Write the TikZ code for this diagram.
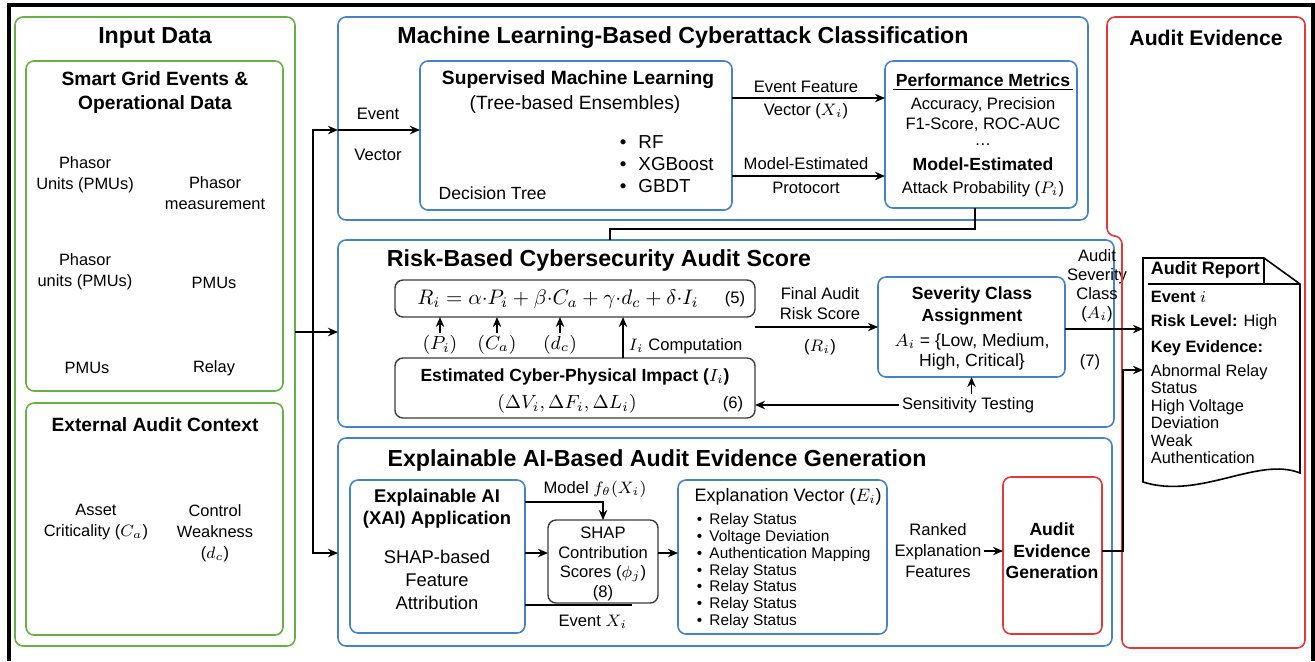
\documentclass[tikz,border=0pt]{standalone}
\usepackage{fix-cm}
\usepackage{amsmath}
\usepackage{fontspec}
\setmainfont{Liberation Sans}
\usetikzlibrary{arrows.meta,positioning,fit,calc}

\definecolor{grnline}{HTML}{6AAE45}
\definecolor{bluline}{HTML}{4583C6}
\definecolor{redline}{HTML}{E0383B}
\definecolor{gryline}{HTML}{3C3C3C}

\begin{document}
\begin{tikzpicture}[
  x=0.5pt, y=-0.5pt, >={Stealth[length=5pt,width=4.2pt]}, line width=0.9pt,
  panel/.style={rounded corners=4pt, inner sep=0pt, outer sep=0pt, line width=0.8pt},
  grnbox/.style={panel, draw=grnline},
  blubox/.style={panel, draw=bluline},
  redbox/.style={panel, draw=redline},
  grybox/.style={panel, draw=gryline, line width=0.7pt},
  ttl/.style={font=\fontsize{11.6}{14}\selectfont\bfseries},
  hdr/.style={font=\fontsize{9.6}{12}\selectfont\bfseries, align=center},
  hdrs/.style={font=\fontsize{8.8}{11}\selectfont\bfseries, align=center},
  txt/.style={font=\fontsize{8.3}{10}\selectfont, align=center},
  txtm/.style={font=\fontsize{9.2}{11.5}\selectfont, align=center},
  lbl/.style={font=\fontsize{8.3}{10}\selectfont, align=center, inner sep=1pt},
  itm/.style={font=\fontsize{7.7}{8.45}\selectfont, align=left, inner sep=0pt},
]
\useasboundingbox (0,0) rectangle (1315,661);
\draw[line width=1.6pt] (9,661) -- (9,5) -- (1313,5) -- (1313,661);

% input data
\node[grnbox, fit={(15,17)(295,646)}] (inp) {};
\node[ttl] (inpT) at (155,38) {Input Data};
\node[grnbox, fit={(26,61)(283,391)}] (grid) {};
\node[hdr] (gridT) at (155,93) {Smart Grid Events \&\\Operational Data};
\node[txt, font=\fontsize{8.2}{10.5}\selectfont] (g1) at (85,175) {Phasor\\Units (PMUs)};
\node[txt, font=\fontsize{8.2}{10.5}\selectfont] (g2) at (215,193) {Phasor\\measurement};
\node[txt, font=\fontsize{8.2}{10.5}\selectfont] (g3) at (85,272) {Phasor\\units (PMUs)};
\node[txt, font=\fontsize{8.2}{10.5}\selectfont] (g4) at (214,283) {PMUs};
\node[txt, font=\fontsize{8.2}{10.5}\selectfont] (g5) at (87,368) {PMUs};
\node[txt, font=\fontsize{8.2}{10.5}\selectfont] (g6) at (214,368) {Relay};
\node[grnbox, fit={(26,403)(283,635)}] (ext) {};
\node[hdr] (extT) at (155,425) {External Audit Context};
\node[txt, font=\fontsize{8.2}{10.5}\selectfont] (ca) at (96,522) {Asset\\Criticality ($C_a$)};
\node[txt, font=\fontsize{8.2}{10.5}\selectfont] (dc) at (215,533) {Control\\Weakness\\($d_c$)};

% machine learning
\node[blubox, fit={(338,17)(1088,220)}] (ml) {};
\node[ttl] (mlT) at (683,38) {Machine Learning-Based Cyberattack Classification};
\node[blubox, fit={(420,61)(732,210)}] (sup) {};
\node[hdr] (supT) at (578,80) {Supervised Machine Learning};
\node[txtm, font=\fontsize{9.6}{11.5}\selectfont] (ens) at (575,105) {(Tree-based Ensembles)};
\node[itm, font=\fontsize{9.4}{11}\selectfont, anchor=west] (algs) at (619,164)
  {\textbullet\hspace{6pt}RF\\\textbullet\hspace{6pt}XGBoost\\\textbullet\hspace{6pt}GBDT};
\node[txt, anchor=west, font=\fontsize{8.8}{10}\selectfont] (dtree) at (431,193) {Decision Tree};
\node[lbl] (evt) at (378,114) {Event};
\node[lbl] (vec) at (378,155) {Vector};
\node[blubox, fit={(885,61)(1077,208)}] (perf) {};
\node[hdrs, inner sep=1pt] (pm) at (983,80) {Performance Metrics};
\draw[line width=0.6pt] (pm.south west) -- (pm.south east);
\node[txt] (acc) at (983,115) {Accuracy, Precision\\F1-Score, ROC-AUC};
\node[txt, inner sep=0pt] (dots) at (983,145) {\dots};
\node[txt, font=\fontsize{8.3}{11.5}\selectfont] (prob) at (983,177)
  {\textbf{\fontsize{8.8}{11.5}\selectfont Model-Estimated}\\Attack Probability ($P_i$)};

\draw[->] (ml.west |- 0,130) -- (sup.west |- 0,130);
\draw[->] (sup.east |- 0,98) -- (perf.west |- 0,98);
\node[lbl] at (806,87) {Event Feature};
\node[lbl] at (806,111) {Vector ($X_i$)};
\draw[->] (sup.east |- 0,176) -- (perf.west |- 0,176);
\node[lbl] at (806,164) {Model-Estimated};
\node[lbl] at (806,188) {Protocort};

% risk score
\node[blubox, fit={(338,240)(1114,427)}] (risk) {};
\node[ttl] (riskT) at (599,260) {Risk-Based Cybersecurity Audit Score};
\node[grybox, fit={(395,280)(755,317)}] (eq) {};
\node[font=\fontsize{10.5}{12}\selectfont] (eqn) at (558,299)
  {$R_i = \alpha{\cdot}P_i + \beta{\cdot}C_a + \gamma{\cdot}d_c + \delta{\cdot}I_i$};
\node[txt] (n5) at (735,299) {(5)};
\node[lbl, font=\fontsize{9.5}{10}\selectfont] (lp) at (440,345) {$(P_i)$};
\node[lbl, font=\fontsize{9.5}{10}\selectfont] (lc) at (497,345) {$(C_a)$};
\node[lbl, font=\fontsize{9.5}{10}\selectfont] (ld) at (560,345) {$(d_c)$};
\draw[->] (lp) -- (lp |- eq.south);
\draw[->] (lc) -- (lc |- eq.south);
\draw[->] (ld) -- (ld |- eq.south);
\node[grybox, fit={(395,358)(755,418)}] (imp) {};
\node[hdrs] (impT) at (575,377) {Estimated Cyber-Physical Impact ($I_i$)};
\node[font=\fontsize{9.5}{11}\selectfont] (dlt) at (567,404) {$(\Delta V_i, \Delta F_i, \Delta L_i)$};
\node[txt] (n6) at (733,404) {(6)};
\draw[->] (imp.north -| 623,0) -- (eq.south -| 623,0);
\node[lbl, anchor=west] (icomp) at (626,346) {$I_i$ Computation};
\node[blubox, fit={(878,277)(1065,377)}] (sev) {};
\node[hdrs] (sevT) at (972,306) {Severity Class\\Assignment};
\node[txt, font=\fontsize{8.8}{10}\selectfont] (sevA) at (972,352) {$A_i$ = \{Low, Medium,\\High, Critical\}};
\draw[->] (eq.east |- sev.west) -- (sev.west);
\node[lbl] (fin) at (820,304) {Final Audit\\Risk Score};
\node[lbl] (ri) at (820,347) {($R_i$)};
\node[lbl] (sens) at (968,405) {Sensitivity Testing};
\draw[->] (sens.north -| sev.south) -- (sev.south);
\draw[->] (sens.west) -- (sens.west -| imp.east);
\node[lbl, font=\fontsize{8.3}{9.5}\selectfont] (asc) at (1097,286) {Audit\\Severity\\Class\\($A_i$)};
\node[lbl] (n7) at (1090,362) {(7)};

% xai evidence
\node[blubox, fit={(338,438)(1112,646)}] (xai) {};
\node[ttl] (xaiT) at (657,460) {Explainable AI-Based Audit Evidence Generation};
\node[blubox, fit={(350,480)(525,633)}] (app) {};
\node[hdr, font=\fontsize{9.2}{11}\selectfont\bfseries] (appT) at (437,509) {Explainable AI\\(XAI) Application};
\node[txtm] (shapb) at (437,580) {SHAP-based\\Feature\\Attribution};
\node[grybox, fit={(548,520)(658,603)}] (shap) {};
\node[txt, font=\fontsize{8.3}{9.7}\selectfont] (shapT) at (603,564) {SHAP\\Contribution\\Scores ($\phi_j$)\\(8)};
\draw[->] (app.east |- 0,502) -| (shap.north);
\node[lbl] (mdl) at (595,489) {Model $f_\theta(X_i)$};
\draw[->] (app.east |- 0,553) -- (shap.west |- 0,553);
\coordinate (evx) at (632,605);
\draw (app.east |- evx) -- (evx);
\node[lbl] (evl) at (593,622) {Event $X_i$};
\node[blubox, fit={(678,480)(887,634)}] (expl) {};
\node[txt, anchor=west, font=\fontsize{9}{10}\selectfont] (explT) at (687,497) {Explanation Vector ($E_i$)};
\node[itm, anchor=west] (items) at (696,571)
  {\textbullet\hspace{3.6pt}Relay Status\\\textbullet\hspace{3.6pt}Voltage Deviation\\
   \textbullet\hspace{3.6pt}Authentication Mapping\\\textbullet\hspace{3.6pt}Relay Status\\
   \textbullet\hspace{3.6pt}Relay Status\\\textbullet\hspace{3.6pt}Relay Status\\
   \textbullet\hspace{3.6pt}Relay Status};
\draw[->] (shap.east |- 0,553) -- (expl.west |- 0,553);
\node[lbl, font=\fontsize{8.3}{10.5}\selectfont] (rank) at (938,551) {Ranked\\Explanation\\Features};
\node[redbox, fit={(1003,477)(1102,634)}] (aeg) {};
\node[hdrs, font=\fontsize{8.8}{10.8}\selectfont\bfseries] (aegT) at (1052,551) {Audit\\Evidence\\Generation};
\draw[->] (rank.east) -- (rank.east -| aeg.west);

% audit evidence
\draw[redline, line width=0.8pt, rounded corners=4pt]
  (1107,17) -- (1305,17) -- (1305,648) -- (1122,648) -- (1122,236) -- (1107,236) -- cycle;
\node[ttl, font=\fontsize{10.6}{13}\selectfont\bfseries] (audT) at (1206,38) {Audit Evidence};
\node[fit={(1143,258)(1300,482)}, inner sep=0pt, outer sep=0pt] (rep) {};
\draw[line width=0.8pt] (rep.north west) -- (1264,258) -- (1300,284) -- (1300,473)
  .. controls (1258,456) and (1200,500) .. (rep.south west) -- cycle;
\draw[line width=0.7pt] (1264,258) -- (1264,284) -- (1300,284);
\draw[line width=0.6pt] (1148,284) -- (1264,284);
\node[anchor=west, font=\fontsize{9}{10}\selectfont\bfseries, inner sep=0pt] (repT) at (1150,270) {Audit Report};
\node[anchor=west, font=\fontsize{8.2}{10}\selectfont, inner sep=0pt] (r1) at (1150,297) {\textbf{Event} $i$};
\node[anchor=west, font=\fontsize{8.2}{10}\selectfont, inner sep=0pt] (r2) at (1150,322) {\textbf{Risk Level:} High};
\node[anchor=west, font=\fontsize{8.2}{10}\selectfont\bfseries, inner sep=0pt] (r3) at (1150,348) {Key Evidence:};
\node[anchor=west, align=left, font=\fontsize{8.2}{8.75}\selectfont, inner sep=0pt] (r4) at (1150,414)
  {Abnormal Relay\\Status\\High Voltage\\Deviation\\Weak\\Authentication};

% connectors
\coordinate (bus) at (313,332);
\draw[->] (inp.east |- bus) -- (risk.west |- bus);
\draw[->] (bus) |- (ml.west |- 0,130);
\draw[->] (bus) |- (xai.west |- 0,553);
\draw ([xshift=-3pt]perf.south) -- ++(0,21) -| (risk.north -| 610,0);
\draw[->] (sev.east |- 0,329) -- (rep.west |- 0,329);
\coordinate (jn) at (1123,370);
\draw[->] (aeg.east |- 0,551) -| (jn) -- (rep.west |- jn);
\end{tikzpicture}
\end{document}
